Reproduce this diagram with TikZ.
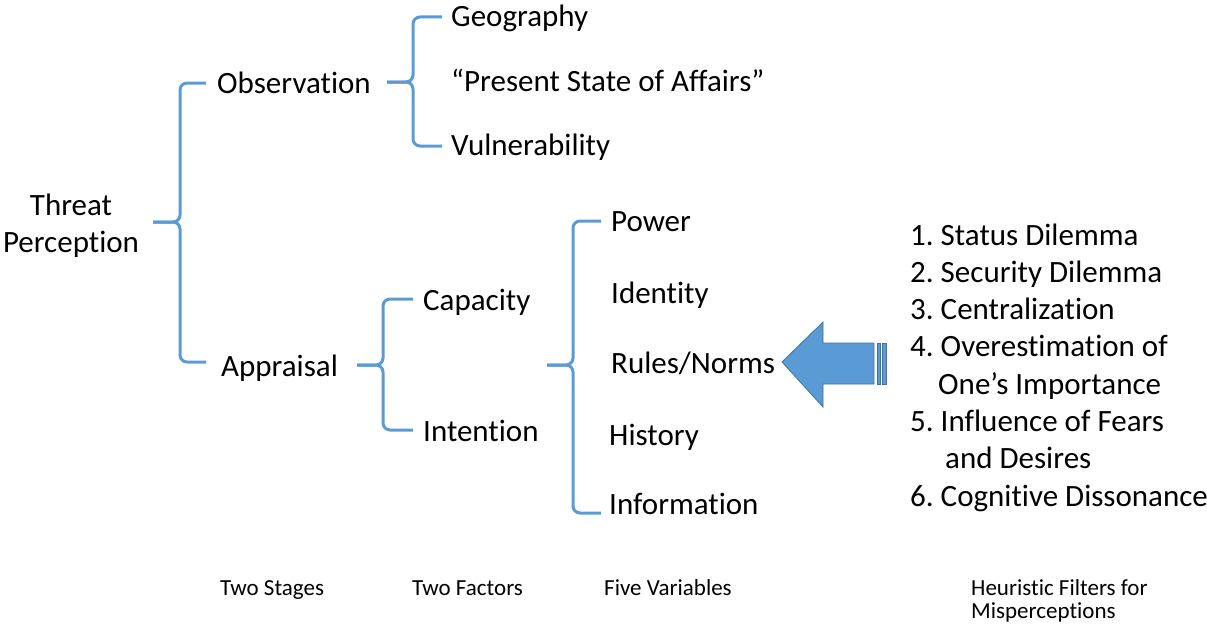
\documentclass[tikz,border=0pt]{standalone}
\usepackage{fontspec}
\setmainfont{Carlito}[RawFeature={-liga;-clig;-calt}]
\frenchspacing
\definecolor{braceblue}{HTML}{5B9BD5}
\definecolor{arrowedge}{HTML}{41719C}
\tikzset{
  lbl/.style={anchor=base west, inner sep=0pt, font=\fontsize{31}{37}\selectfont},
  small/.style={anchor=base west, inner sep=0pt, font=\fontsize{23}{27}\selectfont},
  bracepath/.style={draw=braceblue, line width=3pt, rounded corners=7pt},
  bigarrow/.style={fill=braceblue, draw=arrowedge, line width=0.8pt, line join=miter}
}
% #1 tip x, #2 tip y, #3 vertical x, #4 top y, #5 bottom y, #6 arm end x
\newcommand\mybrace[6]{%
  \draw[bracepath] (#6,#4) -- (#3,#4) -- (#3,#2) -- (#1,#2);
  \draw[bracepath] (#1,#2) -- (#3,#2) -- (#3,#5) -- (#6,#5);
}
\begin{document}
\begin{tikzpicture}[x=1pt,y=-1pt]
\useasboundingbox (0,0) rectangle (1207,626);
% texts
\node[lbl, anchor=base] (threat) at (71,215) {Threat};
\node[lbl, anchor=base] (perc) at (71,252) {Perception};
\node[lbl] (obs) at (217,93) {Observation};
\node[lbl] (app) at (221,376) {Appraisal};
\node[lbl] (geo) at (451,27) {Geography};
\node[lbl] (pres) at (451,92) {“Present State of Affairs”};
\node[lbl] (vul) at (451,155) {Vulnerability};
\node[lbl] (cap) at (423,310) {Capacity};
\node[lbl] (int) at (423,441) {Intention};
\node[lbl] (pow) at (611,231) {Power};
\node[lbl] (ide) at (611,303) {Identity};
\node[lbl] (rul) at (611,373) {Rules/Norms};
\node[lbl] (his) at (609,445) {History};
\node[lbl] (inf) at (609,514) {Information};
% list
\node[lbl] (l1) at (910,245) {1. Status Dilemma};
\node[lbl] (l2) at (910,282) {2. Security Dilemma};
\node[lbl] (l3) at (910,319) {3. Centralization};
\node[lbl] (l4) at (910,356) {4. Overestimation of};
\node[lbl] (l4b) at (938,394) {One’s Importance};
\node[lbl] (l5) at (910,431) {5. Influence of Fears};
\node[lbl] (l5b) at (945,468) {and Desires};
\node[lbl] (l6) at (910,506) {6. Cognitive Dissonance};
% bottom labels
\node[small] (s1) at (220,595) {Two Stages};
\node[small] (s2) at (412,595) {Two Factors};
\node[small] (s3) at (604,595) {Five Variables};
\node[small] (s4) at (971,595) {Heuristic Filters for};
\node[small] (s4b) at (971,618) {Misperceptions};
% braces
\mybrace{153}{222}{180}{83}{362}{206}
\mybrace{387}{82}{413}{17}{146}{442}
\mybrace{357}{365}{383}{299}{430}{413}
\mybrace{547}{365}{573}{221}{513}{601}
% arrow
\draw[bigarrow] (782,362) -- (823,322) -- (823,343) -- (874,343) -- (874,384) -- (823,384) -- (823,407) -- cycle;
\draw[bigarrow] (877,343) rectangle (880,384);
\draw[bigarrow] (882,343) rectangle (886,384);
\end{tikzpicture}
\end{document}
